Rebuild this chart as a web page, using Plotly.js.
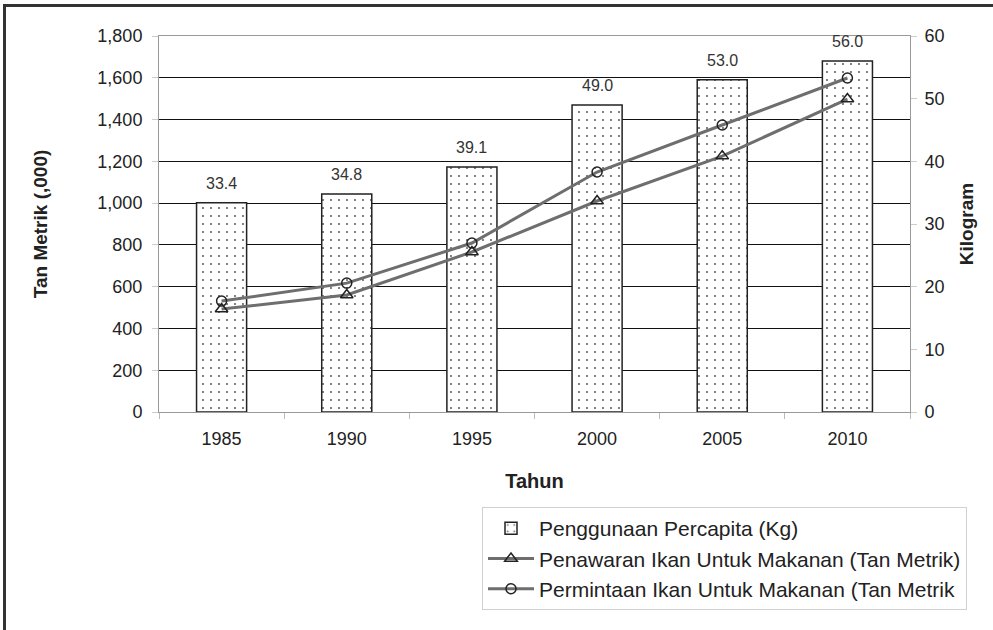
<!DOCTYPE html>
<html><head><meta charset="utf-8">
<script src="https://cdn.plot.ly/plotly-3.0.1.min.js"></script>
<style>
html,body{margin:0;padding:0;background:#fff;}
#wrap{position:relative;width:993px;height:630px;overflow:hidden;}
#chart{width:993px;height:630px;}
#frame{position:absolute;left:3px;top:4px;width:1000px;height:700px;border-left:3px solid #333;border-top:3px solid #333;pointer-events:none;}
</style></head>
<body>
<div id="wrap"><div id="chart"></div><div id="frame"></div></div>
<script>
const years = ['1985','1990','1995','2000','2005','2010'];
const perCapita = [33.4, 34.8, 39.1, 49.0, 53.0, 56.0];
const supply = [493, 560, 766, 1010, 1225, 1498];
const demand = [531, 617, 809, 1149, 1374, 1599];

const FONT = 'Liberation Sans, Arial, sans-serif';
const LINEC = '#6e6e6e';

const traces = [
  {
    type: 'bar', name: 'Penggunaan Percapita (Kg)', x: years, y: perCapita, yaxis: 'y',
    width: 0.4,
    marker: {color: 'white', line: {color: '#222', width: 1.5},
      pattern: {shape: '.', fgcolor: '#666', bgcolor: 'white', size: 8, solidity: 0.06}},
    hoverinfo: 'skip'
  },
  {
    type: 'scatter', mode: 'lines+markers', name: 'Penawaran Ikan Untuk Makanan (Tan Metrik)',
    x: years, y: supply, yaxis: 'y2',
    line: {color: LINEC, width: 3},
    marker: {symbol: 'triangle-up-open', size: 11, color: '#222', line: {width: 1.5, color: '#222'}}
  },
  {
    type: 'scatter', mode: 'lines+markers', name: 'Permintaan Ikan Untuk Makanan (Tan Metrik',
    x: years, y: demand, yaxis: 'y2',
    line: {color: LINEC, width: 3},
    marker: {symbol: 'circle-open', size: 10, color: '#222', line: {width: 1.5, color: '#222'}}
  }
];

const annotations = years.map((yr, i) => ({
  x: i, y: perCapita[i], xref: 'x', yref: 'y', text: perCapita[i].toFixed(1),
  showarrow: false, yanchor: 'bottom', yshift: 9, font: {family: FONT, size: 16, color: '#333'}
}));

const layout = {
  width: 993, height: 630,
  margin: {l: 159, r: 83, t: 36, b: 218},
  paper_bgcolor: 'white', plot_bgcolor: 'white',
  font: {family: FONT, color: '#222', size: 18},
  showlegend: true,
  legend: {x: (482 - 159) / 751, xanchor: 'left', y: -0.2527, yanchor: 'top',
    bordercolor: '#d0d0d0', borderwidth: 1, bgcolor: 'white',
    font: {family: FONT, size: 21, color: '#222'}, tracegroupgap: 0, itemwidth: 46},
  xaxis: {
    type: 'category', range: [-0.5, 5.5], showline: true, mirror: true, linecolor: '#999', linewidth: 1,
    ticks: 'outside', tickson: 'boundaries', ticklen: 6, tickcolor: '#bbb',
    tickfont: {family: FONT, size: 18, color: '#222'}, tickangle: 0, ticklabelstandoff: 10,
    title: {text: '<b>Tahun</b>', font: {family: FONT, size: 20, color: '#222'}, standoff: 26},
    showgrid: false
  },
  yaxis: {
    side: 'right', range: [0, 60], dtick: 10, showgrid: false, zeroline: false,
    showline: true, linecolor: '#999', linewidth: 1, ticks: 'outside', ticklen: 6, tickcolor: '#ccc',
    tickfont: {family: FONT, size: 18, color: '#222'}, ticklabelstandoff: 4,
    title: {text: '<b>Kilogram</b>', font: {family: FONT, size: 19, color: '#222'}, standoff: 16}
  },
  yaxis2: {
    overlaying: 'y', side: 'left', range: [0, 1800], dtick: 200, tickformat: ',d',
    showgrid: true, gridcolor: '#111', gridwidth: 1, zeroline: false,
    showline: true, linecolor: '#999', linewidth: 1, ticks: 'outside', ticklen: 6, tickcolor: '#ccc',
    tickfont: {family: FONT, size: 18, color: '#222'}, ticklabelstandoff: 6,
    title: {text: '<b>Tan Metrik (,000)</b>', font: {family: FONT, size: 19, color: '#222'}, standoff: 44}
  },
  annotations: annotations
};

Plotly.newPlot('chart', traces, layout, {displayModeBar: false, staticPlot: true});
</script>
</body></html>
